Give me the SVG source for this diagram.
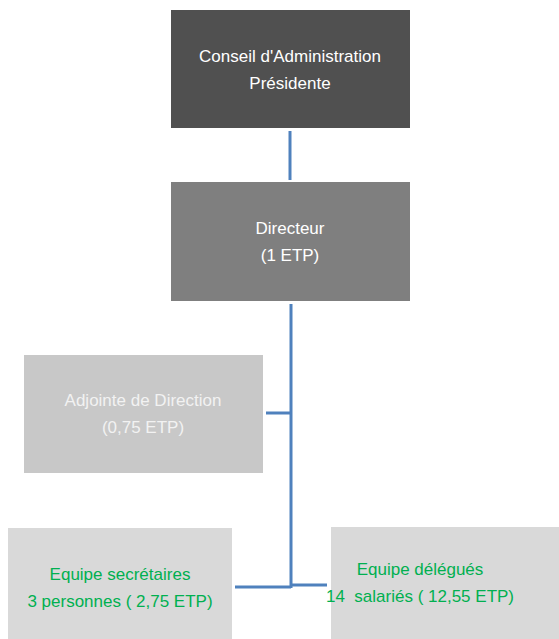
<svg xmlns="http://www.w3.org/2000/svg" width="559" height="639" viewBox="0 0 559 639">
<style>
text{font-family:"Liberation Sans",Arial,sans-serif;font-size:17px;text-anchor:middle;white-space:pre}
.w{fill:#ffffff}
.g{fill:#00b050}
.c{stroke:#4f81bd;stroke-width:3;fill:none}
</style>
<rect width="559" height="639" fill="#ffffff"/>
<g id="connectors">
<line class="c" x1="290" y1="131" x2="290" y2="180"/>
<line class="c" x1="291" y1="304" x2="291" y2="588"/>
<line class="c" x1="266" y1="413" x2="291" y2="413"/>
<line class="c" x1="235" y1="587" x2="291" y2="587"/>
<line class="c" x1="291" y1="585" x2="327" y2="585"/>
</g>
<g id="conseil">
<rect x="171" y="10" width="239" height="118" fill="#505050"/>
<text class="w" x="290" y="62">Conseil d'Administration</text>
<text class="w" x="290" y="89">Présidente</text>
</g>
<g id="directeur">
<rect x="171" y="182" width="239" height="119" fill="#7f7f7f"/>
<text class="w" x="290" y="234">Directeur</text>
<text class="w" x="290" y="261">(1 ETP)</text>
</g>
<g id="adjointe">
<rect x="24" y="355" width="239" height="118" fill="#c8c8c8"/>
<text fill="#f2f2f2" x="143" y="406">Adjointe de Direction</text>
<text fill="#f2f2f2" x="143" y="433">(0,75 ETP)</text>
</g>
<g id="secretaires">
<rect x="8" y="528" width="224" height="115" fill="#d9d9d9"/>
<text class="g" x="120" y="580">Equipe secrétaires</text>
<text class="g" x="120" y="607">3 personnes ( 2,75 ETP)</text>
</g>
<g id="delegues">
<rect x="331" y="527" width="240" height="116" fill="#d9d9d9"/>
<text class="g" x="420" y="575">Equipe délégués</text>
<text class="g" x="420" y="602" xml:space="preserve">14  salariés ( 12,55 ETP)</text>
</g>
</svg>
